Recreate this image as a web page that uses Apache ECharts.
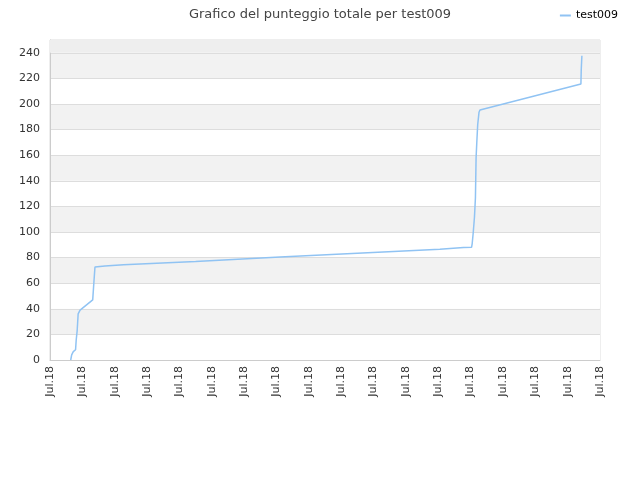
<!DOCTYPE html>
<html><head><meta charset="utf-8">
<script src="https://cdn.jsdelivr.net/npm/echarts@6/dist/echarts.min.js"></script>
<style>html,body{margin:0;padding:0;background:#fff}#c{width:640px;height:480px}</style>
</head><body><div id="c"></div>
<script>
const titleText = "Grafico del punteggio totale per test009";
const seriesName = "test009";
const tickLabel = "Jul.18";
const xPos = [0.64, 0.67, 0.72, 0.79, 0.81, 0.84, 0.87, 0.93, 1.32, 1.36, 1.39, 1.70, 2.27, 4.5, 7.11, 9.5, 12.05, 12.78, 13.03, 13.05, 13.08, 13.12, 13.15, 13.17, 13.19, 13.22, 13.26, 13.29, 16.41, 16.42, 16.44];
const scores = [0, 4, 6.5, 8, 15.6, 23, 36, 39, 47, 62, 72.7, 73.5, 74.5, 77, 80.4, 83.4, 86.6, 87.8, 88, 91, 99, 111.7, 127, 158, 169, 184, 193.5, 195.3, 215.6, 226.5, 237.7];

const chart = echarts.init(document.getElementById('c'));
chart.setOption({
  animation: false,
  textStyle: {fontFamily: 'DejaVu Sans'},
  title: {text: titleText, left: 'center', top: 3,
    textStyle: {fontSize: 13, fontWeight: 'normal', color: '#444', fontFamily: 'DejaVu Sans'}},
  legend: {right: 17, top: 5, itemWidth: 11, itemHeight: 2, itemGap: 10, icon: 'rect',
    textStyle: {fontSize: 11, color: '#000'}, data: [seriesName]},
  grid: {left: 50, right: 40, top: 40, bottom: 120, show: true, borderColor: '#ddd', borderWidth: 1},
  xAxis: {type: 'value', min: 0, max: 17, interval: 1,
    axisLine: {lineStyle: {color: '#ccc'}}, axisTick: {show: false},
    splitLine: {show: false},
    axisLabel: {rotate: 90, fontSize: 11, color: '#333', margin: 6, formatter: () => tickLabel}},
  yAxis: {type: 'value', min: 0, max: 250, interval: 20,
    axisLine: {show: true, lineStyle: {color: '#ccc'}}, axisTick: {show: false},
    splitLine: {show: true, lineStyle: {color: '#ddd'}},
    splitArea: {show: true, areaStyle: {color: ['#ffffff', '#f2f2f2']}},
    axisLabel: {fontSize: 11, color: '#333', margin: 10, showMaxLabel: false,
      formatter: v => (v > 240 ? '' : v)}},
  series: [{
    name: seriesName, type: 'line', symbol: 'none',
    lineStyle: {color: '#90c3f3', width: 1.5}, itemStyle: {color: '#90c3f3'},
    data: xPos.map((x, i) => [x, scores[i]]),
    markArea: {silent: true, itemStyle: {color: '#eeeeee'}, data: [[{yAxis: 240}, {yAxis: 250}]]}
  }]
});
</script></body></html>
